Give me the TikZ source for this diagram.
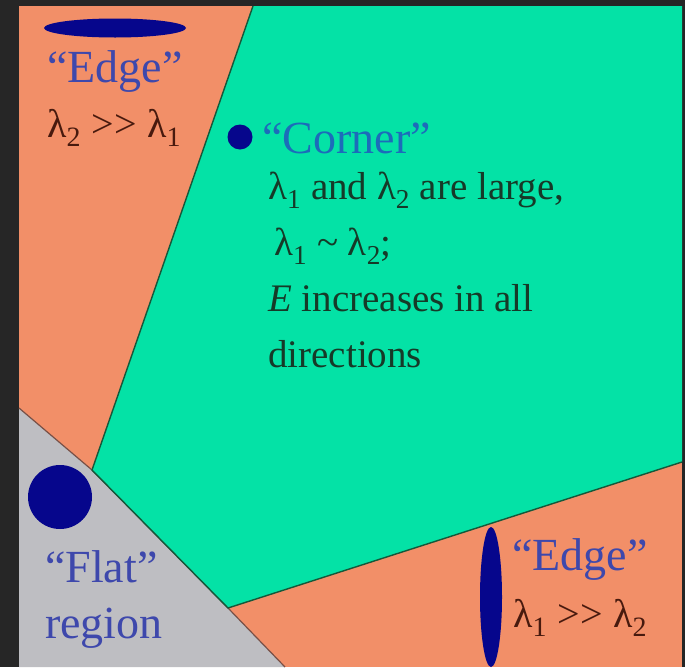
\documentclass[tikz,border=0pt]{standalone}
\usepackage{fontspec}
\setmainfont{Liberation Serif}
\usepackage{tikz}
\usetikzlibrary{shapes.geometric, positioning}
\usepackage{xcolor}
\definecolor{cBack}{RGB}{38,38,38}
\definecolor{cSalmon}{RGB}{242,143,104}
\definecolor{cMint}{RGB}{4,226,166}
\definecolor{cGrey}{RGB}{190,190,194}
\definecolor{cNavy}{RGB}{6,6,140}
\definecolor{cTitle}{RGB}{62,72,172}
\definecolor{cCorner}{RGB}{28,108,186}
\definecolor{cBrown}{RGB}{72,26,14}
\definecolor{cInk}{RGB}{22,58,40}
\definecolor{cRim}{RGB}{22,88,58}
\definecolor{cSeam}{RGB}{120,80,70}
\newcommand{\lam}[1]{λ\textsubscript{#1}}
\tikzset{
  basetext/.style={anchor=base west, inner sep=0pt, align=left},
  titletext/.style={basetext, font=\fontsize{46}{56}\selectfont, text=cTitle},
  reltext/.style={basetext, font=\fontsize{40}{56}\selectfont, text=cBrown},
  bodytext/.style={basetext, font=\fontsize{39}{56}\selectfont, text=cInk},
  blob/.style={fill=cNavy, draw=none, inner sep=0pt},
  seam/.style={draw=cRim, line width=1.4pt, line join=round},
  greyseam/.style={draw=cSeam, line width=1.2pt}
}

\begin{document}
\begin{tikzpicture}[x=1pt, y=-1pt]

  \useasboundingbox (0,0) rectangle (685,667);

  % ── Regions ──
  \fill[cBack] (0,0) rectangle (685,667);
  \fill[cSalmon] (19,6) rectangle (682,667);
  \fill[cGrey] (19,408) -- (92,470) -- (228,608) -- (285,667) -- (19,667) -- cycle;
  \draw[greyseam] (19,408) -- (92,470) -- (228,608) -- (285,667);
  \fill[cMint] (253,6) -- (682,6) -- (682,462) -- (228,608) -- (92,470) -- cycle;
  \draw[seam] (253,6) -- (92,470) -- (228,608) -- (682,462);

  % ── Edge (top left) ──
  \node[blob, ellipse, minimum width=142, minimum height=19] (edge_h) at (115,28) {};
  \node[titletext] (edge_tl) at (47,82) {“Edge”};
  \node[reltext] (rel_tl) at (47,137) {\lam2 >\kern1pt> \lam1};

  % ── Corner (base = last line) ──
  \node[blob, circle, minimum size=25] (corner_dot) at (240,137) {};
  \node[titletext, text=cCorner] (corner_title) at (262,153) {“Corner”};
  \node[bodytext] (corner_text) at (268,367)
      {\lam1 and \lam2 are large,\\\hspace{6pt}\lam1 \textasciitilde{} \lam2;\\
       \textit{E} increases in all\\directions};

  % ── Flat ──
  \node[blob, circle, minimum size=64] (flat_dot) at (60,497) {};
  \node[titletext] (flat_title) at (45,638) {“Flat”\\region};

  % ── Edge (bottom right) ──
  \node[blob, ellipse, minimum width=22, minimum height=140] (edge_v) at (491,597) {};
  \node[titletext] (edge_br) at (512,570) {“Edge”};
  \node[reltext] (rel_br) at (513,627) {\lam1 >\kern1pt> \lam2};

\end{tikzpicture}
\end{document}
